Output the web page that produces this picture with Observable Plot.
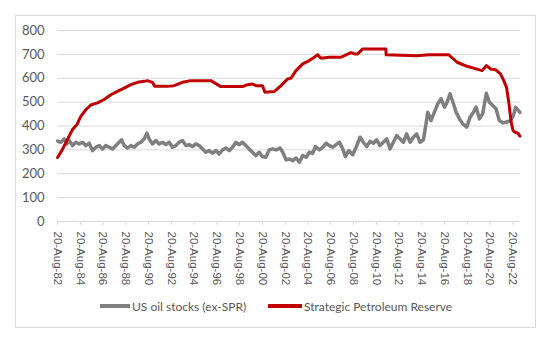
<!DOCTYPE html>
<html>
<head>
<meta charset="utf-8">
<script src="https://cdn.jsdelivr.net/npm/d3@7"></script>
<script src="https://cdn.jsdelivr.net/npm/@observablehq/plot@0.6"></script>
<style>
  html, body { margin: 0; padding: 0; background: #fff; }
  #wrap { position: relative; width: 549px; height: 340px; overflow: hidden; font-family: Lato, "Open Sans", sans-serif; color: #595959; }
  #frame { position: absolute; left: 15px; top: 15px; width: 519px; height: 311px; border: 1px solid #d9d9d9; box-sizing: content-box; }
  #chart { position: absolute; left: 0; top: 0; }
  #legend { position: absolute; left: 0; top: 297px; width: 549px; height: 18px; font-size: 12px; }
  .item { position: absolute; top: 0; display: flex; align-items: center; height: 18px; white-space: nowrap; }
  .sw { display: inline-block; height: 4px; margin-right: 2px; }
</style>
</head>
<body>
<div id="wrap">
  <div id="frame"></div>
  <div id="chart"></div>
  <div id="legend"></div>
</div>
<script>
// ---- Data ----
const seriesNames = ["US oil stocks (ex-SPR)", "Strategic Petroleum Reserve"];
const seriesColors = ["#7f7f7f", "#c00000"];

const stockYears = [1982.64,1982.93,1983.22,1983.45,1983.66,1983.95,1984.25,1984.54,1984.83,1985.12,1985.42,1985.71,1986.00,1986.30,1986.59,1986.88,1987.17,1987.47,1987.76,1988.05,1988.26,1988.49,1988.78,1989.08,1989.37,1989.66,1989.95,1990.25,1990.48,1990.68,1990.98,1991.27,1991.56,1991.86,1992.15,1992.44,1992.73,1993.03,1993.32,1993.61,1993.91,1994.20,1994.49,1994.78,1995.08,1995.37,1995.66,1995.96,1996.25,1996.54,1996.83,1997.13,1997.42,1997.71,1998.01,1998.30,1998.59,1998.88,1999.18,1999.47,1999.76,2000.05,2000.35,2000.64,2000.93,2001.23,2001.52,2001.83,2002.18,2002.42,2002.71,2003.00,2003.30,2003.59,2003.88,2004.17,2004.47,2004.76,2005.05,2005.29,2005.64,2005.93,2006.23,2006.52,2006.81,2007.10,2007.40,2007.69,2007.92,2008.21,2008.56,2008.86,2009.21,2009.50,2009.79,2010.09,2010.38,2010.67,2010.96,2011.26,2011.55,2011.84,2012.13,2012.43,2012.72,2013.01,2013.30,2013.60,2013.89,2014.18,2014.47,2014.77,2015.00,2015.15,2015.44,2015.74,2016.03,2016.32,2016.62,2016.82,2017.11,2017.41,2017.64,2017.94,2018.23,2018.58,2018.87,2019.17,2019.40,2019.69,2019.98,2020.30,2020.56,2020.86,2021.15,2021.44,2021.79,2022.14,2022.43,2022.67,2022.87,2023.08,2023.25];
const stockValues = [337,332,346,325,339,318,332,325,332,318,328,297,311,318,304,318,311,304,318,332,342,318,308,318,311,325,332,346,370,346,325,339,325,332,322,332,311,318,332,339,318,322,314,325,318,304,290,297,286,297,283,300,308,297,311,332,322,332,318,304,290,276,290,272,269,300,304,300,308,290,258,262,255,266,248,276,269,290,286,314,300,311,328,318,311,322,332,304,272,297,280,311,353,332,314,336,328,342,318,332,346,304,332,360,346,332,367,332,353,367,332,342,409,458,423,458,493,514,479,496,535,493,458,430,409,395,437,458,479,430,451,537,500,486,472,423,413,418,422,443,478,467,457];

const sprYears = [1982.64,1983.08,1983.52,1983.95,1984.33,1984.68,1985.12,1985.56,1986.15,1986.73,1987.32,1987.90,1988.49,1989.07,1989.66,1990.24,1990.53,1990.97,1991.18,1992.29,1992.88,1993.61,1994.34,1996.10,1996.98,1998.88,1999.32,1999.76,2000.06,2000.64,2000.85,2001.67,2002.26,2002.84,2003.14,2003.58,2004.17,2004.75,2005.19,2005.49,2005.78,2006.51,2007.53,2007.97,2008.41,2008.70,2009.00,2009.44,2011.05,2011.47,2011.50,2014.20,2015.25,2017.00,2017.73,2018.61,2019.63,2019.93,2020.31,2020.66,2021.10,2021.54,2021.83,2022.07,2022.27,2022.48,2022.65,2022.87,2023.07,2023.25];
const sprValues = [268,303,345,385,405,440,468,488,497,511,531,545,559,573,583,587,590,583,566,566,569,583,590,590,565,565,573,576,569,569,541,544,569,597,600,632,660,674,688,698,684,688,688,698,707,702,702,723,723,723,698,694,698,698,667,650,636,632,653,639,636,618,590,562,499,415,380,373,370,357];

const tickYears = [1982,1984,1986,1988,1990,1992,1994,1996,1998,2000,2002,2004,2006,2008,2010,2012,2014,2016,2018,2020,2022];
const yTicks = [0,100,200,300,400,500,600,700,800];
const xEndYear = 2023.3;

// ---- helpers ----
function yearToDate(y) {
  const yr = Math.floor(y);
  const a = Date.UTC(yr, 0, 1), b = Date.UTC(yr + 1, 0, 1);
  return new Date(a + (y - yr) * (b - a));
}
const stocks = stockYears.map((y, i) => ({date: yearToDate(y), value: stockValues[i]}));
const spr = sprYears.map((y, i) => ({date: yearToDate(y), value: sprValues[i]}));
const tickDates = tickYears.map(y => new Date(Date.UTC(y, 7, 20)));

const chart = Plot.plot({
  width: 549,
  height: 300,
  marginLeft: 57,
  marginRight: 29,
  marginTop: 30,
  marginBottom: 79,
  style: {fontFamily: "Lato, 'Open Sans', sans-serif", color: "#595959", background: "transparent", overflow: "visible"},
  x: {type: "utc", domain: [new Date(Date.UTC(1982, 7, 20)), yearToDate(xEndYear)]},
  y: {domain: [0, 800]},
  marks: [
    Plot.gridY(yTicks.slice(1), {stroke: "#d9d9d9", strokeOpacity: 1, strokeWidth: 1}),
    Plot.axisY(yTicks, {tickSize: 0, tickPadding: 13, fontSize: 13, label: null, fill: "#595959"}),
    Plot.ruleY([0], {stroke: "#d9d9d9", strokeWidth: 1}),
    Plot.axisX(tickDates, {tickSize: 4, stroke: "#d9d9d9", strokeOpacity: 1, tickRotate: 90, tickPadding: 6,
      tickFormat: d3.utcFormat("%d-%b-%y"), label: null, fontSize: 11.5, fill: "#595959",
      fontFamily: "'Liberation Sans', Arial, sans-serif"}),
    Plot.lineY(stocks, {x: "date", y: "value", stroke: seriesColors[0], strokeWidth: 3.5, curve: "linear"}),
    Plot.lineY(spr, {x: "date", y: "value", stroke: seriesColors[1], strokeWidth: 3, curve: "linear"})
  ]
});
document.getElementById("chart").appendChild(chart);

// ---- legend ----
const legend = document.getElementById("legend");
const legendPos = [{left: 100, sw: 30}, {left: 268, sw: 34}];
seriesNames.forEach((name, i) => {
  const it = document.createElement("div");
  it.className = "item";
  it.style.left = legendPos[i].left + "px";
  const sw = document.createElement("span");
  sw.className = "sw";
  sw.style.width = legendPos[i].sw + "px";
  sw.style.background = seriesColors[i];
  const t = document.createElement("span");
  t.textContent = name;
  it.appendChild(sw);
  it.appendChild(t);
  legend.appendChild(it);
});
</script>
</body>
</html>
